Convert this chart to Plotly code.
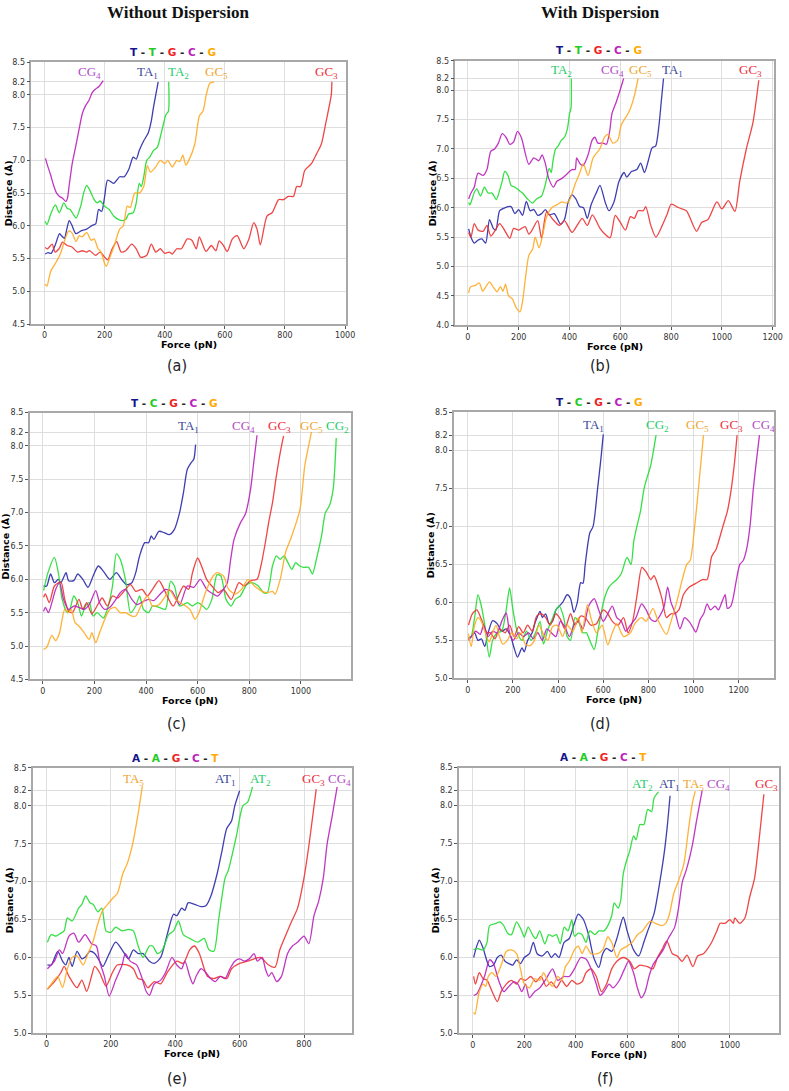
import plotly.graph_objects as go

W, H = 789, 1091

# ---------------- data: panel (a) T-T-G-C-G, without dispersion ----------------
a_ta1_x = [2, 12, 22, 35, 50, 58, 66, 74, 82, 90, 104, 120, 140, 160, 170, 180, 190, 200, 210, 230, 250, 265, 280, 295, 305, 315, 330, 345, 355, 362, 370, 378]
a_ta1_y = [5.57, 5.59, 5.58, 5.70, 5.88, 5.84, 5.81, 5.95, 6.08, 6.02, 5.88, 5.92, 5.95, 6.01, 6.03, 6.25, 6.22, 6.45, 6.70, 6.65, 6.75, 6.75, 6.86, 7.05, 7.02, 7.15, 7.30, 7.42, 7.60, 7.80, 8.00, 8.20]
a_ta2_x = [2, 8, 22, 36, 49, 64, 75, 85, 95, 105, 120, 130, 140, 150, 165, 175, 185, 200, 215, 230, 245, 260, 270, 280, 295, 305, 315, 322, 330, 340, 350, 362, 375, 390, 404, 412, 413]
a_ta2_y = [6.07, 6.02, 6.20, 6.32, 6.20, 6.35, 6.27, 6.25, 6.18, 6.12, 6.30, 6.50, 6.62, 6.55, 6.40, 6.35, 6.38, 6.30, 6.25, 6.15, 6.10, 6.08, 6.10, 6.18, 6.20, 6.35, 6.65, 6.60, 6.75, 7.00, 7.05, 7.15, 7.20, 7.45, 7.70, 7.75, 8.20]
a_gc3_x = [2, 10, 25, 35, 48, 60, 75, 90, 110, 125, 140, 150, 170, 185, 200, 210, 225, 240, 255, 270, 290, 305, 320, 340, 355, 370, 385, 400, 415, 425, 440, 455, 475, 490, 505, 515, 537, 555, 570, 581, 595, 608, 625, 641, 663, 680, 696, 707, 718, 740, 757, 779, 795, 811, 828, 839, 852, 866, 888, 905, 921, 937, 954, 956]
a_gc3_y = [5.67, 5.65, 5.72, 5.60, 5.65, 5.75, 5.70, 5.68, 5.60, 5.62, 5.60, 5.62, 5.55, 5.60, 5.52, 5.48, 5.65, 5.76, 5.60, 5.62, 5.72, 5.65, 5.52, 5.55, 5.72, 5.60, 5.65, 5.58, 5.60, 5.57, 5.65, 5.65, 5.80, 5.78, 5.65, 5.83, 5.61, 5.70, 5.62, 5.77, 5.70, 5.61, 5.80, 5.85, 5.65, 5.80, 6.05, 5.95, 5.71, 6.15, 6.20, 6.40, 6.40, 6.45, 6.45, 6.60, 6.60, 6.85, 6.95, 7.10, 7.25, 7.60, 8.00, 8.20]
a_cg4_x = [3, 10, 20, 30, 40, 50, 60, 71, 76, 82, 92, 104, 115, 126, 137, 148, 159, 170, 181, 195]
a_cg4_y = [7.03, 6.92, 6.78, 6.62, 6.50, 6.45, 6.42, 6.37, 6.42, 6.62, 6.95, 7.22, 7.48, 7.72, 7.84, 7.92, 8.04, 8.09, 8.13, 8.22]
a_gc5_x = [2, 8, 20, 35, 45, 55, 65, 80, 90, 105, 115, 125, 140, 155, 165, 178, 188, 200, 205, 220, 232, 250, 262, 275, 285, 300, 315, 330, 342, 352, 370, 385, 400, 410, 425, 440, 450, 460, 470, 480, 500, 515, 527, 538, 550, 565]
a_gc5_y = [5.11, 5.08, 5.30, 5.42, 5.50, 5.60, 5.75, 5.92, 5.90, 5.76, 5.85, 5.83, 5.90, 5.78, 5.80, 5.65, 5.60, 5.42, 5.38, 5.55, 5.70, 5.95, 6.00, 6.30, 6.28, 6.50, 6.50, 6.60, 6.92, 6.82, 6.90, 7.00, 6.95, 7.00, 6.90, 7.00, 6.98, 7.08, 6.93, 7.00, 7.25, 7.68, 7.75, 8.00, 8.18, 8.20]

# ---------------- panel (b) T-T-G-C-G, with dispersion ----------------
b_ta1_x = [3, 12, 25, 40, 55, 70, 85, 100, 110, 125, 145, 170, 185, 200, 215, 230, 245, 260, 275, 290, 305, 320, 340, 365, 380, 395, 410, 425, 440, 455, 470, 485, 505, 520, 540, 555, 575, 595, 615, 625, 645, 665, 680, 695, 710, 725, 739, 752, 761, 770]
b_ta1_y = [5.64, 5.50, 5.40, 5.45, 5.47, 5.40, 5.80, 5.65, 5.62, 5.95, 6.00, 6.02, 5.90, 5.97, 5.87, 6.11, 5.95, 5.97, 5.87, 5.90, 5.97, 5.88, 5.90, 5.72, 5.80, 6.10, 6.22, 6.15, 6.02, 6.00, 5.82, 6.05, 6.25, 6.38, 6.10, 5.95, 6.10, 6.45, 6.60, 6.52, 6.62, 6.65, 6.76, 6.60, 6.80, 7.02, 7.05, 7.40, 7.80, 8.20]
b_ta2_x = [3, 8, 25, 35, 50, 65, 80, 95, 112, 125, 135, 145, 158, 170, 185, 200, 215, 235, 255, 270, 290, 305, 320, 328, 335, 345, 355, 368, 380, 392, 400, 406, 407]
b_ta2_y = [6.09, 6.05, 6.26, 6.32, 6.20, 6.35, 6.25, 6.25, 6.14, 6.30, 6.45, 6.62, 6.55, 6.38, 6.35, 6.30, 6.25, 6.15, 6.08, 6.15, 6.20, 6.40, 6.67, 6.60, 6.80, 7.00, 7.05, 7.15, 7.20, 7.35, 7.60, 7.70, 8.20]
b_gc3_x = [3, 12, 25, 40, 60, 75, 90, 105, 125, 140, 165, 180, 200, 225, 240, 250, 275, 290, 310, 335, 360, 380, 410, 430, 450, 470, 490, 520, 540, 560, 580, 600, 620, 640, 655, 670, 690, 700, 720, 740, 765, 785, 800, 830, 860, 900, 920, 945, 980, 1000, 1025, 1051, 1070, 1096, 1122, 1145]
b_gc3_y = [5.58, 5.50, 5.73, 5.62, 5.60, 5.70, 5.52, 5.60, 5.73, 5.65, 5.48, 5.65, 5.62, 5.68, 5.55, 5.60, 5.78, 5.48, 5.93, 5.80, 5.70, 5.78, 5.58, 5.70, 5.82, 5.70, 5.88, 5.65, 5.55, 5.49, 5.87, 5.75, 5.62, 5.85, 5.82, 5.95, 5.95, 6.02, 5.70, 5.50, 5.70, 5.90, 6.06, 6.00, 5.95, 5.60, 5.75, 5.80, 6.10, 5.98, 6.12, 5.94, 6.45, 7.00, 7.45, 8.17]
b_cg4_x = [3, 12, 25, 40, 60, 75, 90, 105, 120, 135, 150, 165, 180, 195, 210, 240, 259, 279, 292, 305, 318, 337, 350, 370, 396, 409, 422, 428, 441, 454, 473, 489, 500, 512, 532, 545, 558, 567, 584, 599, 613]
b_cg4_y = [6.15, 6.25, 6.35, 6.59, 6.55, 6.65, 6.96, 7.00, 7.10, 7.26, 7.20, 7.08, 7.12, 7.30, 7.20, 6.74, 6.85, 6.80, 6.90, 6.75, 6.50, 6.35, 6.45, 6.50, 6.60, 6.65, 6.65, 6.85, 6.75, 6.72, 6.90, 7.15, 7.20, 7.10, 7.10, 7.08, 7.30, 7.60, 7.80, 8.00, 8.20]
b_gc5_x = [3, 10, 30, 45, 58, 70, 85, 100, 115, 128, 138, 148, 160, 175, 190, 205, 215, 225, 240, 255, 265, 280, 295, 310, 330, 350, 370, 389, 402, 422, 441, 454, 473, 493, 519, 538, 551, 571, 590, 603, 623, 636, 655, 670]
b_gc5_y = [4.55, 4.65, 4.68, 4.72, 4.58, 4.65, 4.74, 4.65, 4.57, 4.66, 4.58, 4.70, 4.50, 4.45, 4.30, 4.23, 4.40, 4.75, 5.19, 5.30, 5.50, 5.32, 5.55, 5.85, 6.00, 6.05, 6.10, 6.08, 6.15, 6.40, 6.60, 6.75, 6.55, 6.85, 7.00, 7.20, 7.25, 7.10, 7.15, 7.40, 7.55, 7.65, 7.90, 8.20]

# ---------------- panel (c) T-C-G-C-G, without dispersion ----------------
c_ta1_x = [3, 15, 30, 45, 60, 70, 90, 100, 120, 135, 155, 175, 195, 215, 235, 260, 285, 305, 325, 345, 360, 375, 395, 410, 420, 430, 450, 470, 490, 510, 530, 545, 560, 575, 585, 592]
c_ta1_y = [5.90, 5.90, 6.08, 5.95, 6.00, 5.95, 6.10, 5.98, 5.98, 6.08, 6.00, 5.88, 6.05, 6.20, 6.12, 6.00, 6.10, 6.00, 5.92, 5.95, 6.10, 6.35, 6.55, 6.55, 6.65, 6.60, 6.72, 6.70, 6.67, 6.75, 7.00, 7.30, 7.65, 7.75, 7.80, 8.02]
c_cg2_x = [3, 20, 45, 60, 75, 95, 105, 120, 135, 150, 165, 180, 195, 210, 235, 250, 270, 285, 300, 320, 340, 360, 375, 390, 410, 425, 450, 475, 495, 510, 530, 560, 580, 600, 620, 635, 655, 675, 690, 710, 730, 745, 765, 790, 810, 835, 855, 870, 890, 905, 920, 935, 950, 965, 980, 995, 1010, 1030, 1045, 1060, 1080, 1095, 1110, 1125, 1137]
c_cg2_y = [5.83, 6.10, 6.33, 6.10, 5.70, 5.50, 5.55, 5.75, 5.65, 5.45, 5.60, 5.65, 5.45, 5.50, 5.42, 5.55, 5.90, 6.38, 6.30, 6.00, 5.50, 5.60, 5.75, 5.55, 5.50, 5.60, 5.58, 5.55, 5.97, 5.90, 5.60, 5.65, 5.60, 5.65, 5.60, 5.55, 5.70, 6.07, 6.05, 5.70, 5.60, 5.70, 5.75, 5.92, 5.95, 5.90, 5.80, 5.80, 6.20, 6.35, 6.30, 6.35, 6.25, 6.15, 6.25, 6.20, 6.18, 6.18, 6.08, 6.30, 6.65, 7.00, 7.10, 7.35, 8.12]
c_gc3_x = [3, 10, 25, 45, 70, 85, 100, 115, 140, 155, 170, 190, 210, 230, 250, 270, 290, 310, 340, 360, 385, 405, 425, 450, 470, 505, 545, 565, 580, 600, 615, 635, 655, 680, 700, 730, 760, 780, 805, 830, 845, 860, 875, 890, 905, 920, 933]
c_gc3_y = [5.73, 5.78, 5.65, 5.90, 5.96, 5.70, 5.52, 5.50, 5.70, 5.55, 5.65, 5.48, 5.60, 5.72, 5.60, 5.75, 5.72, 5.80, 5.92, 5.82, 5.85, 5.75, 5.85, 5.98, 5.85, 5.60, 5.90, 5.85, 6.10, 6.32, 6.20, 6.00, 5.90, 5.80, 5.85, 5.70, 5.95, 5.90, 5.98, 6.00, 6.20, 6.50, 6.85, 7.15, 7.55, 7.90, 8.15]
c_cg4_x = [3, 10, 22, 35, 50, 65, 80, 100, 120, 140, 160, 180, 205, 220, 240, 260, 280, 300, 320, 345, 365, 390, 410, 430, 455, 475, 500, 530, 560, 585, 610, 635, 660, 677, 700, 715, 728, 741, 766, 785, 805, 817, 830]
c_cg4_y = [5.52, 5.58, 5.50, 5.65, 5.85, 5.95, 5.70, 5.55, 5.60, 5.58, 5.55, 5.62, 5.83, 5.65, 5.55, 5.58, 5.68, 5.80, 5.85, 5.70, 5.62, 5.67, 5.70, 5.68, 5.78, 5.85, 5.82, 5.62, 5.90, 5.88, 6.00, 5.85, 5.78, 5.75, 5.85, 5.95, 6.30, 6.60, 6.85, 6.98, 7.35, 7.74, 8.16]
c_gc5_x = [3, 15, 35, 50, 65, 85, 100, 110, 125, 140, 160, 180, 190, 205, 220, 240, 260, 280, 300, 320, 345, 360, 380, 405, 425, 450, 475, 490, 515, 545, 570, 590, 605, 630, 660, 675, 700, 720, 745, 770, 795, 820, 850, 870, 890, 900, 920, 941, 960, 996, 1015, 1030, 1041]
c_gc5_y = [4.95, 4.98, 5.16, 5.08, 5.20, 5.55, 5.50, 5.55, 5.35, 5.30, 5.20, 5.10, 5.20, 5.05, 5.20, 5.40, 5.55, 5.58, 5.50, 5.50, 5.45, 5.45, 5.60, 5.75, 5.60, 5.62, 5.75, 5.85, 5.70, 5.62, 5.55, 5.40, 5.50, 5.80, 6.05, 6.10, 6.05, 5.85, 5.78, 5.85, 6.00, 5.90, 5.82, 5.80, 5.82, 5.78, 6.00, 6.41, 6.60, 7.04, 7.70, 8.00, 8.21]

# ---------------- panel (d) T-C-G-C-G, with dispersion ----------------
d_ta1_x = [3, 15, 30, 45, 60, 75, 90, 110, 130, 150, 170, 190, 205, 220, 240, 250, 265, 285, 300, 320, 330, 345, 360, 375, 390, 405, 420, 440, 455, 470, 485, 500, 510, 520, 540, 555, 575, 590, 600]
d_ta1_y = [5.53, 5.55, 5.60, 5.50, 5.52, 5.42, 5.60, 5.76, 5.72, 5.62, 5.65, 5.55, 5.40, 5.28, 5.40, 5.35, 5.50, 5.60, 5.75, 5.88, 5.80, 5.85, 5.72, 5.75, 5.90, 5.95, 6.00, 6.10, 6.05, 5.87, 6.00, 6.26, 6.25, 6.50, 6.91, 7.00, 7.50, 7.90, 8.21]
d_cg2_x = [3, 15, 30, 45, 60, 75, 95, 110, 130, 150, 170, 185, 200, 220, 240, 260, 280, 300, 320, 335, 355, 370, 390, 405, 425, 440, 455, 475, 490, 510, 525, 540, 560, 575, 590, 605, 625, 640, 660, 680, 705, 723, 735, 749, 765, 781, 795, 810, 834]
d_cg2_y = [5.52, 5.55, 5.80, 6.10, 5.95, 5.70, 5.28, 5.50, 5.60, 5.62, 5.90, 6.19, 5.90, 5.60, 5.50, 5.62, 5.50, 5.60, 5.75, 5.45, 5.65, 5.75, 5.90, 5.95, 5.80, 5.55, 5.50, 5.80, 5.75, 5.60, 5.60, 5.50, 5.38, 5.60, 5.85, 6.05, 6.20, 6.25, 6.30, 6.38, 6.59, 6.50, 6.80, 7.00, 7.20, 7.50, 7.65, 7.80, 8.20]
d_gc3_x = [3, 20, 40, 60, 85, 100, 120, 140, 165, 185, 205, 225, 245, 265, 285, 305, 325, 345, 365, 390, 410, 430, 455, 475, 500, 520, 545, 570, 600, 620, 640, 665, 690, 710, 730, 750, 771, 790, 810, 825, 845, 860, 880, 900, 915, 935, 955, 980, 1010, 1040, 1060, 1080, 1100, 1130, 1150, 1165, 1180, 1193]
d_gc3_y = [5.70, 5.85, 5.90, 5.78, 5.60, 5.60, 5.52, 5.65, 5.60, 5.70, 5.55, 5.68, 5.60, 5.70, 5.62, 5.82, 5.85, 5.80, 5.70, 5.85, 5.78, 5.65, 5.85, 5.70, 5.82, 5.80, 5.70, 5.72, 5.90, 5.85, 5.75, 5.70, 5.80, 5.60, 5.75, 6.10, 6.46, 6.40, 6.30, 6.35, 6.20, 6.05, 5.80, 5.85, 5.85, 5.90, 6.10, 6.20, 6.25, 6.30, 6.30, 6.60, 6.70, 7.00, 7.20, 7.45, 7.80, 8.20]
d_cg4_x = [3, 15, 35, 55, 70, 90, 110, 130, 150, 170, 185, 200, 225, 245, 270, 290, 310, 330, 350, 370, 390, 410, 430, 450, 470, 490, 510, 535, 560, 580, 600, 620, 640, 660, 680, 700, 720, 745, 770, 790, 810, 830, 850, 870, 885, 900, 920, 940, 960, 980, 995, 1010, 1030, 1045, 1060, 1075, 1095, 1110, 1125, 1140, 1150, 1165, 1175, 1190, 1205, 1220, 1235, 1250, 1265, 1280, 1292]
d_cg4_y = [5.50, 5.55, 5.62, 5.58, 5.70, 5.55, 5.62, 5.60, 5.75, 5.86, 5.60, 5.50, 5.60, 5.55, 5.60, 5.52, 5.60, 5.50, 5.65, 5.60, 5.55, 5.75, 5.68, 5.55, 5.70, 5.75, 5.65, 5.95, 6.05, 5.90, 5.75, 5.85, 5.95, 5.80, 5.75, 5.62, 5.70, 5.80, 5.98, 5.90, 5.78, 5.75, 5.82, 5.95, 6.20, 6.00, 5.85, 5.65, 5.80, 5.75, 5.68, 5.61, 5.78, 5.85, 5.98, 5.90, 5.95, 5.90, 6.00, 6.10, 5.92, 5.95, 6.05, 6.30, 6.50, 6.55, 6.70, 7.00, 7.50, 7.90, 8.20]
d_gc5_x = [3, 15, 30, 45, 60, 75, 95, 110, 125, 140, 155, 175, 195, 215, 235, 255, 275, 295, 315, 335, 355, 375, 395, 420, 440, 465, 490, 505, 530, 545, 570, 595, 620, 640, 660, 690, 720, 740, 770, 790, 820, 840, 880, 900, 925, 950, 970, 985, 1005, 1025, 1044]
d_gc5_y = [5.59, 5.42, 5.70, 5.80, 5.75, 5.62, 5.48, 5.60, 5.70, 5.55, 5.45, 5.50, 5.60, 5.52, 5.60, 5.45, 5.43, 5.50, 5.70, 5.58, 5.50, 5.68, 5.70, 5.55, 5.70, 5.62, 5.80, 5.60, 5.97, 5.80, 5.60, 5.70, 5.44, 5.60, 5.72, 5.55, 5.60, 5.72, 5.80, 5.75, 5.92, 5.78, 5.58, 5.75, 6.00, 6.30, 6.50, 6.55, 7.00, 7.60, 8.20]

# ---------------- panel (e) A-A-G-C-T, without dispersion ----------------
e_at1_x = [3, 15, 35, 50, 60, 70, 80, 95, 110, 120, 135, 150, 165, 175, 195, 215, 235, 255, 270, 285, 300, 320, 335, 355, 375, 395, 405, 420, 430, 440, 460, 480, 495, 510, 530, 545, 560, 575, 585, 600]
e_at1_y = [5.90, 5.90, 6.08, 5.95, 5.90, 6.00, 5.88, 6.08, 5.98, 6.00, 6.08, 6.05, 5.95, 5.88, 6.05, 6.20, 6.10, 5.98, 6.10, 6.05, 6.05, 5.95, 5.92, 6.00, 6.30, 6.57, 6.55, 6.65, 6.62, 6.72, 6.70, 6.67, 6.68, 6.80, 7.10, 7.40, 7.70, 7.80, 8.00, 8.20]
e_at2_x = [3, 15, 30, 45, 55, 65, 80, 100, 110, 122, 135, 145, 160, 172, 185, 200, 215, 235, 255, 270, 285, 300, 320, 330, 345, 360, 380, 395, 410, 425, 445, 470, 490, 505, 520, 535, 555, 565, 590, 610, 625, 640]
e_at2_y = [6.20, 6.30, 6.28, 6.32, 6.35, 6.52, 6.48, 6.65, 6.70, 6.81, 6.72, 6.70, 6.60, 6.65, 6.35, 6.33, 6.40, 6.35, 6.37, 6.35, 6.15, 6.00, 6.15, 6.15, 6.05, 6.10, 6.30, 6.35, 6.48, 6.30, 6.25, 6.20, 6.25, 6.10, 6.08, 6.50, 7.05, 7.15, 7.60, 8.00, 8.05, 8.25]
e_gc3_x = [3, 25, 45, 55, 70, 95, 110, 125, 140, 150, 165, 185, 205, 220, 250, 270, 285, 300, 315, 335, 355, 375, 405, 425, 445, 460, 475, 500, 520, 540, 560, 575, 600, 625, 645, 665, 690, 710, 725, 739, 759, 780, 800, 816, 838]
e_gc3_y = [5.58, 5.68, 5.80, 5.88, 5.75, 5.60, 5.70, 5.55, 5.75, 5.88, 5.80, 5.62, 5.80, 5.90, 5.90, 5.85, 5.72, 5.70, 5.60, 5.68, 5.65, 5.80, 5.95, 5.92, 6.10, 6.15, 6.05, 5.75, 5.72, 5.75, 5.72, 5.85, 5.92, 5.95, 5.98, 6.00, 5.90, 5.87, 6.10, 6.25, 6.45, 6.65, 7.05, 7.50, 8.22]
e_cg4_x = [3, 25, 40, 50, 70, 85, 100, 120, 140, 155, 165, 180, 195, 215, 235, 245, 260, 280, 295, 310, 320, 335, 355, 370, 390, 405, 420, 430, 445, 455, 465, 480, 495, 510, 525, 540, 555, 570, 585, 600, 615, 630, 645, 655, 670, 680, 690, 700, 715, 730, 749, 764, 780, 800, 815, 831, 846, 860, 872, 887, 903]
e_cg4_y = [5.85, 5.95, 6.10, 6.05, 6.28, 6.32, 6.20, 6.30, 6.18, 6.15, 5.95, 5.75, 5.49, 5.70, 5.90, 6.05, 5.95, 5.90, 5.75, 5.55, 5.50, 5.65, 5.70, 5.80, 6.00, 5.90, 5.85, 5.95, 5.75, 5.65, 5.75, 5.85, 5.80, 5.72, 5.68, 5.75, 5.72, 5.85, 5.95, 5.98, 5.95, 5.98, 6.05, 5.95, 6.00, 5.85, 5.75, 5.80, 5.68, 5.75, 6.05, 6.15, 6.20, 6.28, 6.18, 6.55, 6.75, 7.05, 7.50, 7.85, 8.25]
e_ta5_x = [3, 15, 35, 50, 65, 80, 95, 114, 129, 144, 160, 175, 190, 206, 221, 237, 252, 268, 283, 298]
e_ta5_y = [5.58, 5.65, 5.75, 5.60, 5.85, 6.00, 6.02, 5.90, 6.05, 6.20, 6.45, 6.62, 6.70, 6.78, 6.85, 7.10, 7.25, 7.50, 7.85, 8.26]

# ---------------- panel (f) A-A-G-C-T, with dispersion ----------------
f_at1_x = [3, 15, 25, 40, 55, 65, 80, 95, 110, 125, 140, 155, 170, 185, 200, 220, 235, 250, 270, 290, 305, 320, 335, 355, 375, 395, 410, 430, 450, 470, 490, 505, 520, 540, 560, 585, 600, 625, 645, 665, 679, 705, 724, 744, 756, 767]
f_at1_y = [6.00, 6.15, 6.23, 6.12, 5.95, 5.88, 5.90, 6.00, 6.03, 5.95, 5.92, 5.90, 5.97, 5.92, 6.00, 6.05, 6.20, 6.05, 6.02, 6.08, 6.00, 6.05, 6.00, 6.20, 6.25, 6.45, 6.57, 6.50, 6.30, 6.00, 5.87, 6.05, 6.12, 6.08, 6.25, 6.53, 6.35, 6.10, 6.02, 6.20, 6.34, 6.58, 6.93, 7.37, 7.72, 8.13]
f_at2_x = [3, 15, 40, 55, 65, 90, 105, 120, 135, 150, 170, 190, 200, 215, 235, 245, 260, 280, 295, 310, 325, 340, 355, 370, 385, 395, 410, 425, 440, 455, 475, 490, 510, 525, 540, 550, 565, 575, 585, 600, 610, 625, 635, 650, 665, 680, 695, 705, 722]
f_at2_y = [6.10, 6.12, 6.10, 6.20, 6.42, 6.45, 6.47, 6.42, 6.32, 6.30, 6.47, 6.35, 6.27, 6.40, 6.28, 6.25, 6.35, 6.18, 6.30, 6.28, 6.30, 6.18, 6.40, 6.35, 6.50, 6.28, 6.32, 6.30, 6.20, 6.35, 6.30, 6.35, 6.35, 6.42, 6.55, 6.72, 6.65, 6.75, 7.10, 7.30, 7.40, 7.60, 7.55, 7.75, 7.75, 7.95, 7.92, 8.10, 8.18]
f_gc3_x = [3, 10, 25, 40, 55, 75, 95, 110, 130, 150, 170, 185, 205, 225, 245, 265, 285, 305, 325, 345, 365, 385, 405, 425, 440, 460, 480, 500, 520, 540, 560, 585, 610, 628, 650, 679, 700, 718, 735, 754, 776, 795, 814, 833, 856, 874, 897, 910, 929, 949, 962, 981, 1000, 1013, 1019, 1038, 1058, 1077, 1096, 1115, 1132]
f_gc3_y = [5.75, 5.65, 5.80, 5.72, 5.70, 5.55, 5.42, 5.55, 5.65, 5.70, 5.65, 5.72, 5.70, 5.75, 5.68, 5.75, 5.62, 5.68, 5.60, 5.70, 5.62, 5.70, 5.65, 5.68, 5.80, 5.85, 5.75, 5.55, 5.65, 5.85, 5.95, 6.00, 5.95, 5.85, 5.90, 5.88, 5.85, 6.00, 6.10, 6.22, 6.05, 6.02, 5.95, 6.03, 5.88, 6.02, 6.05, 6.10, 6.20, 6.35, 6.45, 6.45, 6.50, 6.45, 6.52, 6.45, 6.52, 6.80, 7.05, 7.60, 8.15]
f_cg4_x = [3, 15, 45, 65, 80, 100, 120, 140, 160, 175, 190, 205, 220, 240, 260, 285, 310, 330, 355, 375, 395, 420, 440, 460, 480, 495, 510, 530, 545, 570, 590, 605, 625, 640, 655, 670, 685, 700, 720, 740, 760, 785, 800, 815, 830, 855, 870, 892]
f_cg4_y = [5.50, 5.52, 5.75, 5.97, 5.92, 5.70, 5.55, 5.62, 5.68, 5.65, 5.55, 5.65, 5.47, 5.55, 5.60, 5.72, 5.85, 5.70, 5.75, 5.75, 5.85, 6.00, 5.98, 5.85, 5.65, 5.50, 5.55, 5.65, 5.60, 5.70, 5.85, 5.95, 5.80, 5.60, 5.47, 5.55, 5.75, 5.90, 6.00, 6.10, 6.25, 6.40, 6.65, 7.00, 7.15, 7.50, 7.80, 8.20]
f_ta5_x = [3, 8, 25, 40, 50, 60, 75, 90, 110, 130, 150, 170, 185, 200, 220, 240, 260, 275, 290, 310, 330, 345, 360, 375, 395, 410, 425, 440, 460, 485, 505, 525, 540, 560, 575, 600, 620, 640, 660, 690, 710, 735, 750, 763, 782, 801, 821, 840, 853, 865]
f_ta5_y = [5.28, 5.25, 5.55, 5.65, 5.62, 5.75, 5.80, 5.75, 5.90, 6.08, 6.10, 6.05, 5.85, 5.65, 5.60, 5.72, 5.70, 5.80, 5.70, 5.62, 5.75, 5.70, 5.88, 5.95, 6.10, 6.15, 6.05, 6.15, 6.05, 6.05, 6.10, 6.27, 6.20, 6.00, 6.10, 6.15, 6.20, 6.30, 6.35, 6.48, 6.45, 6.42, 6.45, 6.55, 6.85, 7.02, 7.24, 7.72, 8.02, 8.19]

# sequence letters per panel row
seq_ttgcg = ["T", "T", "G", "C", "G"]
seq_tcgcg = ["T", "C", "G", "C", "G"]
seq_aagct = ["A", "A", "G", "C", "T"]

# ---------------- styling ----------------
LINE = {"b": "#2b2bab", "g": "#22dd33", "r": "#ee3333", "m": "#bb22bb", "o": "#ffaa22"}
LAB = {"b": "#3b4a9e", "g": "#1fcc6a", "r": "#ee2c3c", "m": "#b04cc8", "o": "#eea52e"}
SEQC = ["#14148c", "#22cc22", "#ee2222", "#bb22bb", "#ffaa00"]

# pixel boxes of the plot areas: (left, top, right, bottom)
panels = [
    dict(box=(31.7, 58.7, 350.0, 322.7), xr=(-44, 1003), yr=(4.5, 8.5), xt=list(range(0, 1001, 200)),
         seq=seq_ttgcg, seqpos=(175, 48), cap="(a)", cappos=(179, 365),
         series=[(a_ta1_x, a_ta1_y, "b"), (a_ta2_x, a_ta2_y, "g"), (a_gc3_x, a_gc3_y, "r"), (a_cg4_x, a_cg4_y, "m"), (a_gc5_x, a_gc5_y, "o")],
         labels=[("CG", "4", 148, 8.35, "m"), ("TA", "1", 342, 8.35, "b"), ("TA", "2", 444, 8.35, "g"), ("GC", "5", 573, 8.35, "o"), ("GC", "3", 937, 8.35, "r")]),
    dict(box=(460.7, 57.3, 782.7, 324.0), xr=(-49, 1204), yr=(4.0, 8.5), xt=list(range(0, 1201, 200)),
         seq=seq_ttgcg, seqpos=(606, 46), cap="(b)", cappos=(607, 365),
         series=[(b_ta1_x, b_ta1_y, "b"), (b_ta2_x, b_ta2_y, "g"), (b_gc3_x, b_gc3_y, "r"), (b_cg4_x, b_cg4_y, "m"), (b_gc5_x, b_gc5_y, "o")],
         labels=[("TA", "2", 367, 8.34, "g"), ("CG", "4", 571, 8.34, "m"), ("GC", "5", 681, 8.34, "o"), ("TA", "1", 804, 8.34, "b"), ("GC", "3", 1113, 8.34, "r")]),
    dict(box=(30.0, 412.0, 355.0, 681.0), xr=(-51, 1194), yr=(4.5, 8.5), xt=list(range(0, 1001, 200)),
         seq=seq_tcgcg, seqpos=(177, 402), cap="(c)", cappos=(179, 725),
         series=[(c_ta1_x, c_ta1_y, "b"), (c_cg2_x, c_cg2_y, "g"), (c_gc3_x, c_gc3_y, "r"), (c_cg4_x, c_cg4_y, "m"), (c_gc5_x, c_gc5_y, "o")],
         labels=[("TA", "1", 566, 8.29, "b"), ("CG", "4", 779, 8.29, "m"), ("GC", "3", 917, 8.29, "r"), ("GC", "5", 1041, 8.29, "o"), ("CG", "2", 1140, 8.29, "g")]),
    dict(box=(459.3, 411.7, 783.3, 680.0), xr=(-61, 1358), yr=(5.0, 8.5), xt=list(range(0, 1201, 200)),
         seq=seq_tcgcg, seqpos=(606, 401), cap="(d)", cappos=(607, 725),
         series=[(d_ta1_x, d_ta1_y, "b"), (d_cg2_x, d_cg2_y, "g"), (d_gc3_x, d_gc3_y, "r"), (d_cg4_x, d_cg4_y, "m"), (d_gc5_x, d_gc5_y, "o")],
         labels=[("TA", "1", 558, 8.33, "b"), ("CG", "2", 842, 8.33, "g"), ("GC", "5", 1018, 8.33, "o"), ("GC", "3", 1168, 8.33, "r"), ("CG", "4", 1311, 8.33, "m")]),
    dict(box=(33.3, 770.3, 355.7, 1037.7), xr=(-42, 948), yr=(5.0, 8.5), xt=list(range(0, 801, 200)),
         seq=seq_aagct, seqpos=(178, 760), cap="(e)", cappos=(179, 1083),
         series=[(e_at1_x, e_at1_y, "b"), (e_at2_x, e_at2_y, "g"), (e_gc3_x, e_gc3_y, "r"), (e_cg4_x, e_cg4_y, "m"), (e_ta5_x, e_ta5_y, "o")],
         labels=[("TA", "5", 269, 8.35, "o"), ("AT", "1", 554, 8.35, "b"), ("AT", "2", 664, 8.35, "g"), ("GC", "3", 829, 8.35, "r"), ("CG", "4", 911, 8.35, "m")]),
    dict(box=(464.3, 770.0, 788.3, 1038.0), xr=(-54, 1192), yr=(5.0, 8.5), xt=list(range(0, 1001, 200)),
         seq=seq_aagct, seqpos=(610, 759), cap="(f)", cappos=(612, 1083),
         series=[(f_at1_x, f_at1_y, "b"), (f_at2_x, f_at2_y, "g"), (f_gc3_x, f_gc3_y, "r"), (f_cg4_x, f_cg4_y, "m"), (f_ta5_x, f_ta5_y, "o")],
         labels=[("AT", "2", 660, 8.28, "g"), ("AT", "1", 763, 8.28, "b"), ("TA", "5", 859, 8.28, "o"), ("CG", "4", 955, 8.28, "m"), ("GC", "3", 1141, 8.28, "r")]),
]

fig = go.Figure()
layout = dict(width=W, height=H, margin=dict(l=0, r=0, t=0, b=0, pad=0),
              paper_bgcolor="white", plot_bgcolor="white", showlegend=False)
annotations = []

def px(x):
    return x / W

def py(y):
    return 1 - y / H

TICKFONT = dict(family="DejaVu Sans", size=8, color="#333333")
BOLD = dict(family="DejaVu Sans", size=9.5, color="black")
CAPFONT = dict(family="DejaVu Sans Condensed, Liberation Sans Narrow, Liberation Sans", size=16, color="#222222")

for i, p in enumerate(panels):
    n = i + 1
    xa = "x" if n == 1 else f"x{n}"
    ya = "y" if n == 1 else f"y{n}"
    l, t, r, b = p["box"]
    y0, y1 = p["yr"]
    yt = [v / 10 for v in range(int(round(y0 * 10)), 81, 5)] + [8.2, 8.5]
    yt = sorted(set(yt))
    axcommon = dict(showgrid=True, gridcolor="#dedede", gridwidth=1, zeroline=False,
                    showline=True, linecolor="#a8a8a8", linewidth=1.5, mirror=True,
                    ticks="outside", ticklen=3, tickwidth=1, tickcolor="#555555",
                    tickfont=TICKFONT, fixedrange=True)
    layout["xaxis" if n == 1 else f"xaxis{n}"] = dict(
        domain=[px(l), px(r)], range=list(p["xr"]), anchor=ya,
        tickvals=p["xt"], ticktext=[str(v) for v in p["xt"]], **axcommon)
    layout["yaxis" if n == 1 else f"yaxis{n}"] = dict(
        domain=[py(b), py(t)], range=[y0, y1], anchor=xa,
        tickvals=yt, ticktext=[f"{v:.1f}" for v in yt], **axcommon)
    for xs, ys, c in p["series"]:
        fig.add_trace(go.Scatter(x=xs, y=ys, mode="lines", xaxis=xa, yaxis=ya,
                                 line=dict(color=LINE[c], width=1.3, shape="spline", smoothing=0.7),
                                 opacity=0.9, hoverinfo="skip"))
    for base, sub, lx, ly, c in p["labels"]:
        annotations.append(dict(text=f"{base}<sub>{sub}</sub>", x=lx, y=ly, xref=xa, yref=ya,
                                showarrow=False, xanchor="center", yanchor="middle",
                                font=dict(family="Liberation Serif", size=13, color=LAB[c])))
    # sequence title
    parts = [f"<span style='color:{SEQC[k]}'>{s}</span>" for k, s in enumerate(p["seq"])]
    seqtxt = " - ".join(parts)
    annotations.append(dict(text=f"<b>{seqtxt}</b>", x=px(p["seqpos"][0]), y=py(p["seqpos"][1]),
                            xref="paper", yref="paper", showarrow=False, xanchor="center", yanchor="middle",
                            font=dict(family="DejaVu Sans", size=10.5, color="#222222")))
    # axis titles
    annotations.append(dict(text="<b>Force (pN)</b>", x=px((l + r) / 2), y=py(b + 21),
                            xref="paper", yref="paper", showarrow=False, xanchor="center", yanchor="middle",
                            font=BOLD))
    annotations.append(dict(text="<b>Distance (Å)</b>", x=px(l - 23.5), y=py((t + b) / 2),
                            xref="paper", yref="paper", showarrow=False, xanchor="center", yanchor="middle",
                            textangle=-90, font=BOLD))
    # caption
    annotations.append(dict(text=p["cap"], x=px(p["cappos"][0]), y=py(p["cappos"][1]),
                            xref="paper", yref="paper", showarrow=False, xanchor="center", yanchor="middle",
                            font=CAPFONT))

for txt, cx in (("Without Dispersion", 180), ("With Dispersion", 607)):
    annotations.append(dict(text=f"<b>{txt}</b>", x=px(cx), y=py(9), xref="paper", yref="paper",
                            showarrow=False, xanchor="center", yanchor="middle",
                            font=dict(family="Liberation Serif", size=17, color="#111111")))

layout["annotations"] = annotations
fig.update_layout(**layout)
fig.write_html("out.html")
